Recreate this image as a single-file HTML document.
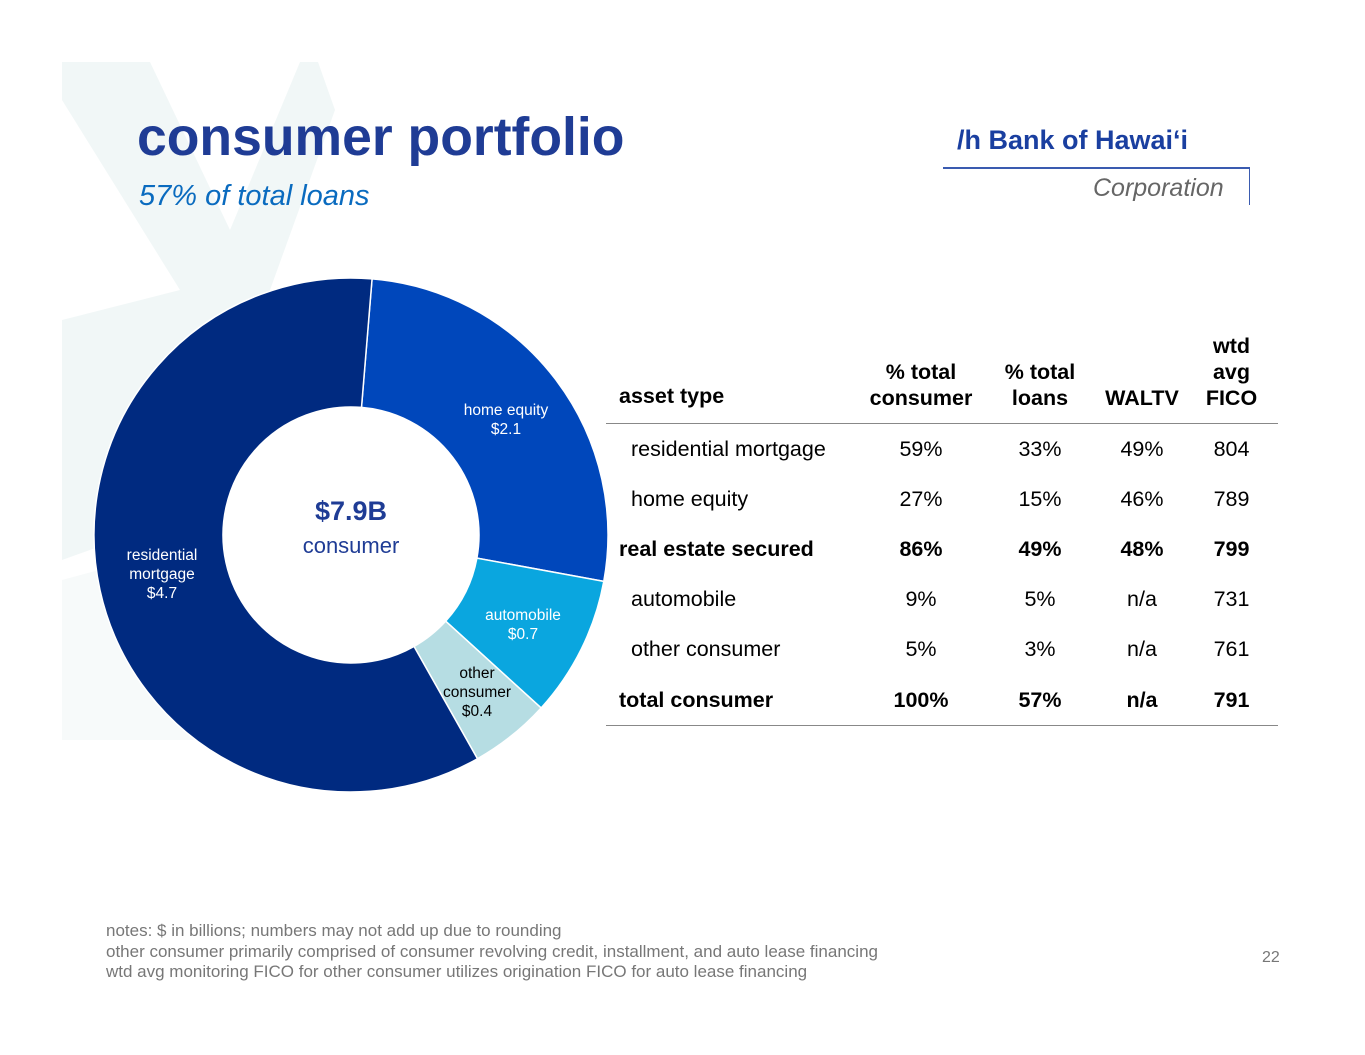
<!DOCTYPE html>
<html><head><meta charset="utf-8"><style>
body{margin:0;width:1365px;height:1055px;background:#fff;position:relative;overflow:hidden;font-family:"Liberation Sans",Arial,sans-serif}
.abs{position:absolute}
table{border-collapse:collapse}
.tbl{position:absolute;left:606px;top:333px;width:672px;font-size:21.5px;color:#000;table-layout:fixed}
.tbl td,.tbl th{padding:0;height:50.2px;vertical-align:middle;text-align:center;white-space:nowrap}
.tbl th{font-weight:bold;vertical-align:bottom;padding-bottom:12px;line-height:26px;height:auto}
.tbl thead tr{border-bottom:1px solid #888}
.tbl tbody tr:last-child{border-bottom:1px solid #888}
.b td{font-weight:bold}
</style></head><body>
<svg class="abs" style="left:0;top:0" width="1365" height="1055">
<g fill="#f1f7f7">
<polygon points="62,62 150,62 230,230 300,62 318,62 335,110 270,290 335,450 335,700 230,500 62,560 62,320 180,290 62,100"/>
</g>
<polygon points="62,580 210,540 230,740 62,740" fill="#f7fafa"/>
</svg>
<div class="abs" style="left:137px;top:107px;font-size:53.5px;font-weight:bold;color:#1f3c95;white-space:nowrap">consumer portfolio</div>
<div class="abs" style="left:139px;top:180px;font-size:29px;font-style:italic;color:#0a6bbf;white-space:nowrap">57% of total loans</div>
<div class="abs" style="left:943px;top:122px;width:308px;height:84px">
 <div class="abs" style="left:14px;top:3px;font-size:27px;font-weight:bold;color:#1a3fa0;white-space:nowrap">/h Bank of Hawai‘i</div>
 <div class="abs" style="left:0;top:45px;width:306px;height:2px;background:#3a5bb0"></div>
 <div class="abs" style="left:306px;top:45px;width:1px;height:38px;background:#3a5bb0"></div>
 <div class="abs" style="left:150px;top:52px;font-size:25px;font-style:italic;color:#666;white-space:nowrap">Corporation</div>
</div>
<svg class="abs" style="left:0;top:0" width="700" height="820" id="donut"><circle cx="351" cy="535" r="128" fill="#fff"/></svg>
<div class="abs" style="left:251px;top:496px;width:200px;text-align:center;font-size:27px;font-weight:bold;color:#1f3c95">$7.9B</div>
<div class="abs" style="left:251px;top:533px;width:200px;text-align:center;font-size:22px;color:#1f3c95">consumer</div>
<table class="tbl">
<colgroup><col style="width:255px"><col style="width:120px"><col style="width:118px"><col style="width:86px"><col></colgroup>
<thead><tr><th style="text-align:left;padding-left:13px;padding-bottom:14px">asset type</th><th>% total<br>consumer</th><th>% total<br>loans</th><th>WALTV</th><th>wtd<br>avg<br>FICO</th></tr></thead>
<tbody>
<tr><td style="text-align:left;padding-left:25px">residential mortgage</td><td>59%</td><td>33%</td><td>49%</td><td>804</td></tr>
<tr><td style="text-align:left;padding-left:25px">home equity</td><td>27%</td><td>15%</td><td>46%</td><td>789</td></tr>
<tr class="b"><td style="text-align:left;padding-left:13px">real estate secured</td><td>86%</td><td>49%</td><td>48%</td><td>799</td></tr>
<tr><td style="text-align:left;padding-left:25px">automobile</td><td>9%</td><td>5%</td><td>n/a</td><td>731</td></tr>
<tr><td style="text-align:left;padding-left:25px">other consumer</td><td>5%</td><td>3%</td><td>n/a</td><td>761</td></tr>
<tr class="b"><td style="text-align:left;padding-left:13px">total consumer</td><td>100%</td><td>57%</td><td>n/a</td><td>791</td></tr>
</tbody></table>
<div class="abs" style="left:106px;top:921px;font-size:17px;color:#777;line-height:20.5px;white-space:nowrap">notes: $ in billions; numbers may not add up due to rounding<br>other consumer primarily comprised of consumer revolving credit, installment, and auto lease financing<br>wtd avg monitoring FICO for other consumer utilizes origination FICO for auto lease financing</div>
<div class="abs" style="left:1262px;top:949px;font-size:16px;color:#777">22</div>
<script>
const categories=["home equity","automobile","other consumer","residential mortgage"];
const values=[2.1,0.7,0.4,4.7];
const valueLabels=["$2.1","$0.7","$0.4","$4.7"];
const colors=["#0047bb","#0aa6df","#b6dde3","#002a80"];
const labelLines=[["home equity"],["automobile"],["other","consumer"],["residential","mortgage"]];
const cx=351,cy=535,R=257,r=128,start=4.7;
const svg=document.getElementById('donut');
const NS="http://www.w3.org/2000/svg";
const total=values.reduce((a,b)=>a+b,0);
function pt(deg,rad){const a=deg*Math.PI/180;return [cx+rad*Math.sin(a),cy-rad*Math.cos(a)];}
let ang=start;
const labelPos=[[506,410],[523,615],[477,673],[162,555]];
const labelColor=["#fff","#fff","#000","#fff"];
values.forEach((v,i)=>{
 const sweep=v/total*360,a0=ang,a1=ang+sweep;ang=a1;
 const [x0,y0]=pt(a0,R),[x1,y1]=pt(a1,R),[x2,y2]=pt(a1,r),[x3,y3]=pt(a0,r);
 const lg=sweep>180?1:0;
 const p=document.createElementNS(NS,'path');
 p.setAttribute('d',`M${x0},${y0}A${R},${R} 0 ${lg} 1 ${x1},${y1}L${x2},${y2}A${r},${r} 0 ${lg} 0 ${x3},${y3}Z`);
 p.setAttribute('fill',colors[i]);p.setAttribute('stroke','#fff');p.setAttribute('stroke-width','1.5');
 
 
 svg.appendChild(p);
 const t=document.createElementNS(NS,'text');
 
 
 t.setAttribute('text-anchor','middle');t.setAttribute('font-size','15.5');t.setAttribute('fill',labelColor[i]);
 t.setAttribute('font-family','Liberation Sans, sans-serif');
 const lines=labelLines[i].concat([valueLabels[i]]);
 lines.forEach((s,k)=>{const ts=document.createElementNS(NS,'tspan');ts.setAttribute('x',labelPos[i][0]);ts.setAttribute('y',labelPos[i][1]+k*19+5);ts.textContent=s;t.appendChild(ts);});
 svg.appendChild(t);
});
</script>
</body></html>
